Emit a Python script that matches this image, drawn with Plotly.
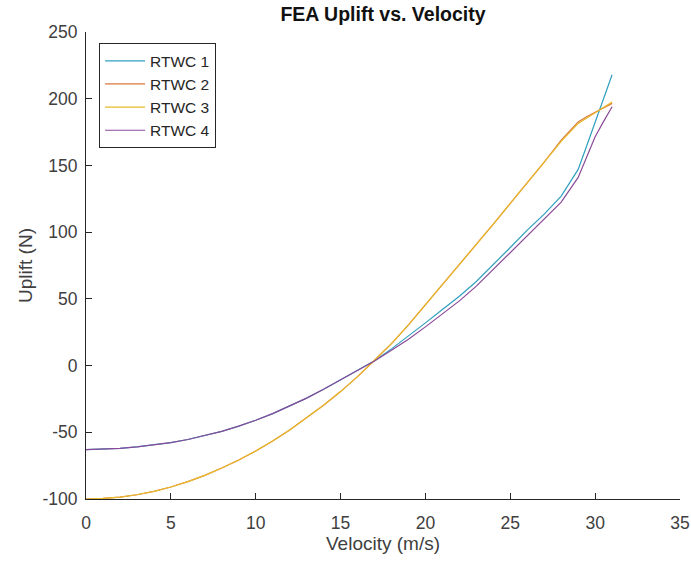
import plotly.graph_objects as go

# Velocity samples (m/s)
velocity = [0, 1, 2, 3, 4, 5, 6, 7, 8, 9, 10, 11, 12, 13, 14, 15, 16, 17, 18,
            19, 20, 21, 22, 23, 24, 25, 26, 27, 28, 29, 29.5, 30, 30.5, 31]

# Uplift (N) for each wing configuration
rtwc1 = [-63, -62.8, -62.1, -61, -59.6, -57.7, -55.4, -52.6, -49.3, -45.4,
         -41, -36, -30.5, -24.4, -17.8, -10.8, -3.3, 3.6, 12.5, 22,
         32, 42, 52, 63, 75.5, 88.5, 101.5, 113.5, 127, 147, 164.5, 182.5, 200.5, 218]
rtwc2 = [-100, -99.6, -98.6, -96.8, -94.3, -91, -87, -82.3, -76.8, -70.8,
         -64, -56.5, -48.3, -39.3, -29.7, -19.5, -8.3, 4, 16.5, 30.5,
         45.5, 61, 76, 91, 106, 121.5, 137, 152.5, 169, 182.5, 186.5, 190, 193, 196.5]
rtwc3 = [-100, -99.6, -98.6, -96.8, -94.3, -91, -87, -82.3, -76.8, -70.8,
         -64, -56.5, -48.3, -39.3, -29.7, -19.5, -8.3, 4, 16.5, 30.5,
         45.5, 61, 76, 91, 106, 121.5, 137, 152.5, 168, 181.5, 185.5, 189.5, 193.5, 197.5]
rtwc4 = [-63, -62.8, -62.1, -61, -59.6, -57.7, -55.4, -52.6, -49.3, -45.4,
         -41, -36, -30.5, -24.4, -17.8, -10.8, -3.3, 3.4, 11.5, 19.8,
         29, 38.5, 48.5, 59.5, 72, 84.5, 97, 109.5, 122.5, 141, 156, 171.5, 183, 194]

names = ["RTWC 1", "RTWC 2", "RTWC 3", "RTWC 4"]
colors = ["#2f9fbf", "#d9773a", "#e8b92a", "#8a4a98"]
series = [rtwc1, rtwc2, rtwc3, rtwc4]

x_ticks = [0, 5, 10, 15, 20, 25, 30, 35]
y_ticks = [-100, -50, 0, 50, 100, 150, 200, 250]

fig = go.Figure()
for name, color, ys in zip(names, colors, series):
    fig.add_trace(go.Scatter(x=velocity, y=ys, mode="lines", name=name,
                             line=dict(color=color, width=1.2)))

axis_style = dict(showline=True, linecolor="#262626", linewidth=1,
                  ticks="inside", ticklen=6, tickcolor="#262626",
                  showgrid=False, zeroline=False, mirror=False,
                  automargin=False,
                  tickfont=dict(size=17.5, color="#404040"))

fig.update_layout(
    width=691, height=561,
    margin=dict(l=86, r=11, t=32, b=62),
    paper_bgcolor="white", plot_bgcolor="white",
    font=dict(family="Liberation Sans, Arial, sans-serif", color="#404040"),
    title=dict(text="<b>FEA Uplift vs. Velocity</b>", x=383 / 691,
               xanchor="center", yref="container", y=1 - 14 / 561,
               yanchor="middle",
               font=dict(size=19.5, color="#111111")),
    xaxis=dict(range=[0, 35], tickvals=x_ticks,
               ticktext=[str(v) for v in x_ticks], ticklabelstandoff=8,
               title=dict(text="Velocity (m/s)", standoff=4,
                          font=dict(size=19, color="#404040")),
               **axis_style),
    yaxis=dict(range=[-100, 250], tickvals=y_ticks,
               ticktext=[str(v) for v in y_ticks], ticklabelstandoff=4,
               title=dict(text="Uplift (N)", standoff=4,
                          font=dict(size=19, color="#404040")),
               **axis_style),
    legend=dict(x=0.022, y=0.976, xanchor="left", yanchor="top",
                bgcolor="white", bordercolor="#262626", borderwidth=1,
                itemwidth=40,
                font=dict(size=15.5, color="#262626"), tracegroupgap=0),
    showlegend=True,
)

fig.write_html("out.html")
